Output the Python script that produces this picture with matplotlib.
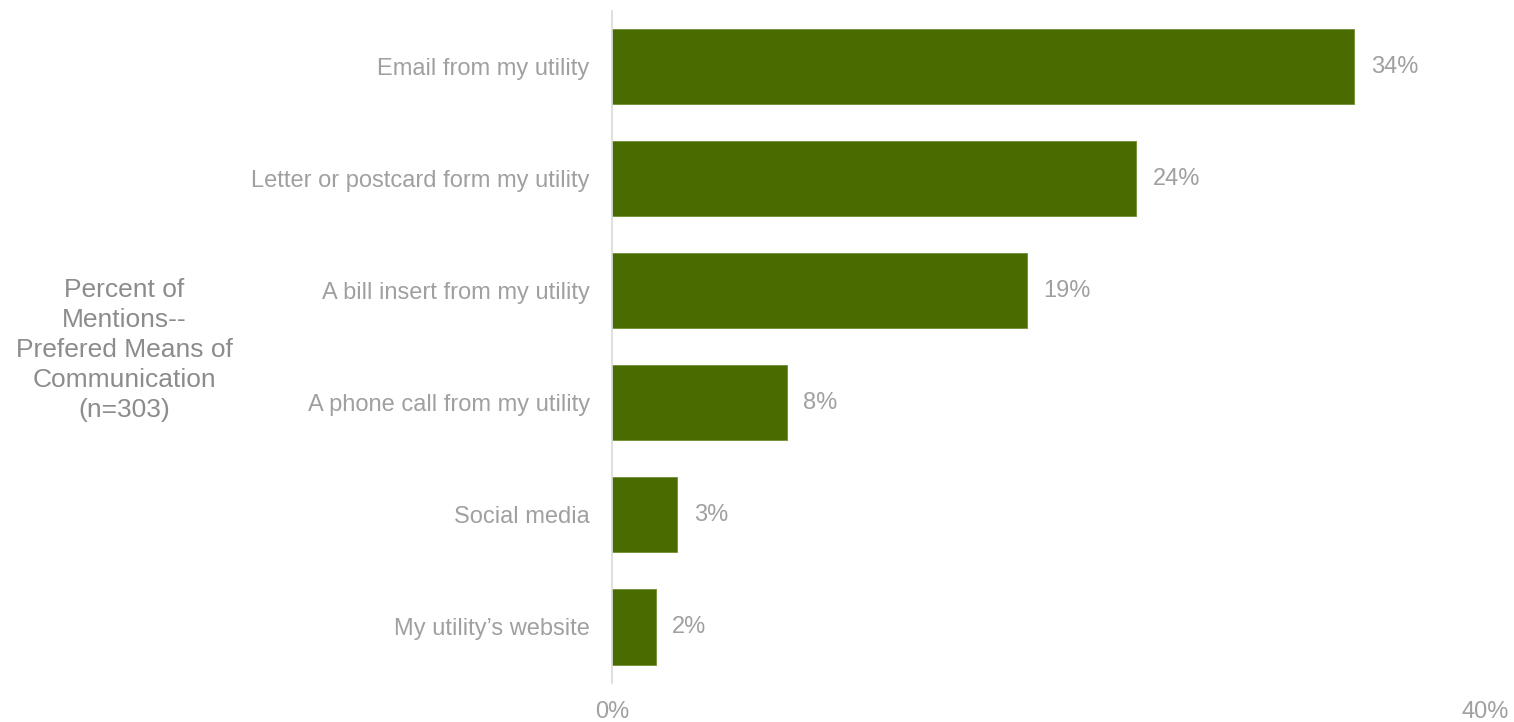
import matplotlib
matplotlib.use("Agg")
import matplotlib.pyplot as plt

plt.rcParams['font.family'] = ['Liberation Sans', 'DejaVu Sans']

categories = [
    "Email from my utility",
    "Letter or postcard form my utility",
    "A bill insert from my utility",
    "A phone call from my utility",
    "Social media",
    "My utility\u2019s website",
]
values = [34, 24, 19, 8, 3, 2]
x_ticks = [0, 40]
x_tick_labels = ["0%", "40%"]
axis_title = "Percent of\nMentions--\nPrefered Means of\nCommunication\n(n=303)"

bar_color = "#4a6b00"
text_color = "#a0a0a0"
title_color = "#8c8c8c"

fig = plt.figure(figsize=(15.14, 7.22), dpi=100)
ax = fig.add_axes([0.4042, 0.054, 0.9808 - 0.4042, 0.931])

ypos = list(range(len(categories)))[::-1]
ax.barh(ypos, values, height=0.67, color=bar_color, edgecolor="#6f8f2f", linewidth=0.6, zorder=2)

for y, v in zip(ypos, values):
    ax.annotate(f"{v}%", (v, y), xytext=(12, 0), textcoords="offset points",
                va="center", ha="left", fontsize=17, color=text_color)

ax.set_xlim(0, 40)
ax.set_ylim(-0.5, len(categories) - 0.5)
ax.set_yticks(ypos)
ax.set_yticklabels(categories, fontsize=17, color=text_color)
ax.set_xticks(x_ticks)
ax.set_xticklabels(x_tick_labels, fontsize=17, color=text_color)
ax.tick_params(axis="y", length=0, pad=16)
ax.tick_params(axis="x", length=0, pad=13)

for side in ("top", "right", "bottom"):
    ax.spines[side].set_visible(False)
ax.spines["left"].set_color("#d9d9d9")
ax.spines["left"].set_linewidth(1.2)
ax.spines["left"].set_zorder(3)

fig.text(124 / 1514, 1 - 350 / 722, axis_title, ha="center", va="center",
         fontsize=19, color=title_color, linespacing=1.32)

fig.savefig("out.png", dpi=100, facecolor="white")
